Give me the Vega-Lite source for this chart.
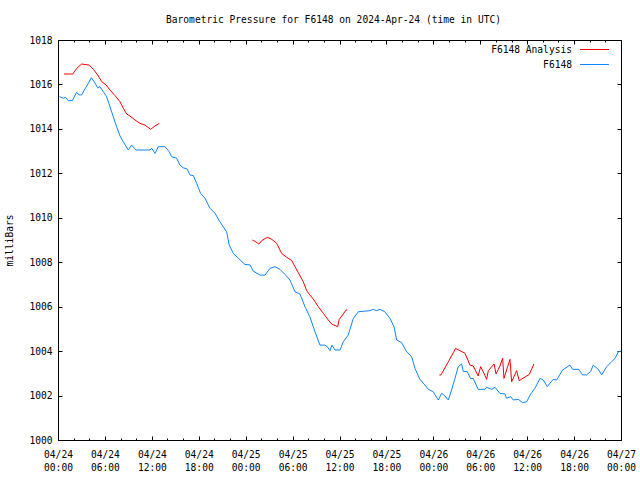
{
  "$schema": "https://vega.github.io/schema/vega-lite/v6.json",
  "width": 563,
  "height": 400,
  "autosize": {"type": "none"},
  "padding": {"left": 58, "top": 40, "right": 19, "bottom": 40},
  "background": "white",
  "config": {
    "font": "DejaVu Sans Mono",
    "view": {"stroke": "black", "strokeWidth": 1},
    "axis": {"grid": false, "domain": false, "labelFont": "DejaVu Sans Mono", "labelFontSize": 9.6, "labelColor": "black", "tickColor": "black", "tickWidth": 1, "titleFont": "DejaVu Sans Mono", "titleFontWeight": "normal", "titleFontSize": 9.6, "titleColor": "black"},
    "legend": {"labelFont": "DejaVu Sans Mono", "labelFontSize": 9.6, "labelColor": "black"}
  },
  "title": {"text": "Barometric Pressure for F6148 on 2024-Apr-24 (time in UTC)", "font": "DejaVu Sans Mono", "fontSize": 9.6, "fontWeight": "normal", "color": "black", "offset": 10, "dx": -6},
  "data": {
    "format": {"parse": {"time": "utc:'%Y-%m-%d %H:%M'"}},
    "values": [
      {"series": "F6148", "run": 0, "time": "2024-04-24 00:10", "mbar": 1015.45},
      {"series": "F6148", "run": 0, "time": "2024-04-24 00:41", "mbar": 1015.38},
      {"series": "F6148", "run": 0, "time": "2024-04-24 00:59", "mbar": 1015.42},
      {"series": "F6148", "run": 0, "time": "2024-04-24 01:19", "mbar": 1015.27},
      {"series": "F6148", "run": 0, "time": "2024-04-24 01:50", "mbar": 1015.27},
      {"series": "F6148", "run": 0, "time": "2024-04-24 02:23", "mbar": 1015.65},
      {"series": "F6148", "run": 0, "time": "2024-04-24 02:41", "mbar": 1015.53},
      {"series": "F6148", "run": 0, "time": "2024-04-24 03:02", "mbar": 1015.53},
      {"series": "F6148", "run": 0, "time": "2024-04-24 03:22", "mbar": 1015.75},
      {"series": "F6148", "run": 0, "time": "2024-04-24 03:45", "mbar": 1015.97},
      {"series": "F6148", "run": 0, "time": "2024-04-24 04:16", "mbar": 1016.30},
      {"series": "F6148", "run": 0, "time": "2024-04-24 04:38", "mbar": 1016.12},
      {"series": "F6148", "run": 0, "time": "2024-04-24 05:04", "mbar": 1015.85},
      {"series": "F6148", "run": 0, "time": "2024-04-24 05:22", "mbar": 1015.90},
      {"series": "F6148", "run": 0, "time": "2024-04-24 05:48", "mbar": 1015.67},
      {"series": "F6148", "run": 0, "time": "2024-04-24 06:13", "mbar": 1015.45},
      {"series": "F6148", "run": 0, "time": "2024-04-24 06:39", "mbar": 1015.00},
      {"series": "F6148", "run": 0, "time": "2024-04-24 07:04", "mbar": 1014.55},
      {"series": "F6148", "run": 0, "time": "2024-04-24 07:30", "mbar": 1014.10},
      {"series": "F6148", "run": 0, "time": "2024-04-24 07:56", "mbar": 1013.68},
      {"series": "F6148", "run": 0, "time": "2024-04-24 08:21", "mbar": 1013.42},
      {"series": "F6148", "run": 0, "time": "2024-04-24 08:59", "mbar": 1013.05},
      {"series": "F6148", "run": 0, "time": "2024-04-24 09:25", "mbar": 1013.27},
      {"series": "F6148", "run": 0, "time": "2024-04-24 09:58", "mbar": 1013.05},
      {"series": "F6148", "run": 0, "time": "2024-04-24 11:46", "mbar": 1013.05},
      {"series": "F6148", "run": 0, "time": "2024-04-24 11:59", "mbar": 1013.13},
      {"series": "F6148", "run": 0, "time": "2024-04-24 12:24", "mbar": 1012.90},
      {"series": "F6148", "run": 0, "time": "2024-04-24 12:50", "mbar": 1013.20},
      {"series": "F6148", "run": 0, "time": "2024-04-24 13:41", "mbar": 1013.20},
      {"series": "F6148", "run": 0, "time": "2024-04-24 14:14", "mbar": 1012.97},
      {"series": "F6148", "run": 0, "time": "2024-04-24 14:32", "mbar": 1012.75},
      {"series": "F6148", "run": 0, "time": "2024-04-24 15:10", "mbar": 1012.68},
      {"series": "F6148", "run": 0, "time": "2024-04-24 15:36", "mbar": 1012.37},
      {"series": "F6148", "run": 0, "time": "2024-04-24 16:00", "mbar": 1012.25},
      {"series": "F6148", "run": 0, "time": "2024-04-24 16:30", "mbar": 1012.20},
      {"series": "F6148", "run": 0, "time": "2024-04-24 16:54", "mbar": 1011.92},
      {"series": "F6148", "run": 0, "time": "2024-04-24 17:18", "mbar": 1011.90},
      {"series": "F6148", "run": 0, "time": "2024-04-24 17:44", "mbar": 1011.55},
      {"series": "F6148", "run": 0, "time": "2024-04-24 18:14", "mbar": 1011.10},
      {"series": "F6148", "run": 0, "time": "2024-04-24 18:48", "mbar": 1010.88},
      {"series": "F6148", "run": 0, "time": "2024-04-24 19:26", "mbar": 1010.43},
      {"series": "F6148", "run": 0, "time": "2024-04-24 20:05", "mbar": 1010.20},
      {"series": "F6148", "run": 0, "time": "2024-04-24 20:42", "mbar": 1009.82},
      {"series": "F6148", "run": 0, "time": "2024-04-24 21:34", "mbar": 1009.37},
      {"series": "F6148", "run": 0, "time": "2024-04-24 21:54", "mbar": 1008.77},
      {"series": "F6148", "run": 0, "time": "2024-04-24 22:25", "mbar": 1008.40},
      {"series": "F6148", "run": 0, "time": "2024-04-24 23:04", "mbar": 1008.18},
      {"series": "F6148", "run": 0, "time": "2024-04-24 23:54", "mbar": 1007.90},
      {"series": "F6148", "run": 0, "time": "2024-04-25 00:33", "mbar": 1007.88},
      {"series": "F6148", "run": 0, "time": "2024-04-25 00:58", "mbar": 1007.60},
      {"series": "F6148", "run": 0, "time": "2024-04-25 01:50", "mbar": 1007.42},
      {"series": "F6148", "run": 0, "time": "2024-04-25 02:28", "mbar": 1007.42},
      {"series": "F6148", "run": 0, "time": "2024-04-25 03:06", "mbar": 1007.72},
      {"series": "F6148", "run": 0, "time": "2024-04-25 03:45", "mbar": 1007.80},
      {"series": "F6148", "run": 0, "time": "2024-04-25 04:24", "mbar": 1007.68},
      {"series": "F6148", "run": 0, "time": "2024-04-25 05:02", "mbar": 1007.45},
      {"series": "F6148", "run": 0, "time": "2024-04-25 05:40", "mbar": 1007.20},
      {"series": "F6148", "run": 0, "time": "2024-04-25 06:18", "mbar": 1006.67},
      {"series": "F6148", "run": 0, "time": "2024-04-25 06:57", "mbar": 1006.57},
      {"series": "F6148", "run": 0, "time": "2024-04-25 07:35", "mbar": 1006.00},
      {"series": "F6148", "run": 0, "time": "2024-04-25 08:12", "mbar": 1005.55},
      {"series": "F6148", "run": 0, "time": "2024-04-25 08:52", "mbar": 1004.87},
      {"series": "F6148", "run": 0, "time": "2024-04-25 09:30", "mbar": 1004.27},
      {"series": "F6148", "run": 0, "time": "2024-04-25 10:08", "mbar": 1004.27},
      {"series": "F6148", "run": 0, "time": "2024-04-25 10:26", "mbar": 1004.20},
      {"series": "F6148", "run": 0, "time": "2024-04-25 10:47", "mbar": 1004.02},
      {"series": "F6148", "run": 0, "time": "2024-04-25 11:02", "mbar": 1004.27},
      {"series": "F6148", "run": 0, "time": "2024-04-25 11:25", "mbar": 1004.05},
      {"series": "F6148", "run": 0, "time": "2024-04-25 12:04", "mbar": 1004.05},
      {"series": "F6148", "run": 0, "time": "2024-04-25 12:29", "mbar": 1004.42},
      {"series": "F6148", "run": 0, "time": "2024-04-25 13:07", "mbar": 1004.72},
      {"series": "F6148", "run": 0, "time": "2024-04-25 13:46", "mbar": 1005.47},
      {"series": "F6148", "run": 0, "time": "2024-04-25 14:24", "mbar": 1005.77},
      {"series": "F6148", "run": 0, "time": "2024-04-25 15:54", "mbar": 1005.82},
      {"series": "F6148", "run": 0, "time": "2024-04-25 16:19", "mbar": 1005.88},
      {"series": "F6148", "run": 0, "time": "2024-04-25 16:45", "mbar": 1005.82},
      {"series": "F6148", "run": 0, "time": "2024-04-25 17:11", "mbar": 1005.88},
      {"series": "F6148", "run": 0, "time": "2024-04-25 17:48", "mbar": 1005.77},
      {"series": "F6148", "run": 0, "time": "2024-04-25 18:28", "mbar": 1005.47},
      {"series": "F6148", "run": 0, "time": "2024-04-25 18:58", "mbar": 1005.10},
      {"series": "F6148", "run": 0, "time": "2024-04-25 19:19", "mbar": 1004.50},
      {"series": "F6148", "run": 0, "time": "2024-04-25 19:57", "mbar": 1004.38},
      {"series": "F6148", "run": 0, "time": "2024-04-25 20:35", "mbar": 1003.97},
      {"series": "F6148", "run": 0, "time": "2024-04-25 21:14", "mbar": 1003.75},
      {"series": "F6148", "run": 0, "time": "2024-04-25 21:39", "mbar": 1003.22},
      {"series": "F6148", "run": 0, "time": "2024-04-25 22:17", "mbar": 1002.73},
      {"series": "F6148", "run": 0, "time": "2024-04-25 22:56", "mbar": 1002.47},
      {"series": "F6148", "run": 0, "time": "2024-04-25 23:22", "mbar": 1002.28},
      {"series": "F6148", "run": 0, "time": "2024-04-25 23:59", "mbar": 1002.17},
      {"series": "F6148", "run": 0, "time": "2024-04-26 00:38", "mbar": 1001.80},
      {"series": "F6148", "run": 0, "time": "2024-04-26 01:04", "mbar": 1002.10},
      {"series": "F6148", "run": 0, "time": "2024-04-26 01:29", "mbar": 1001.98},
      {"series": "F6148", "run": 0, "time": "2024-04-26 01:55", "mbar": 1001.80},
      {"series": "F6148", "run": 0, "time": "2024-04-26 02:20", "mbar": 1002.25},
      {"series": "F6148", "run": 0, "time": "2024-04-26 02:46", "mbar": 1002.77},
      {"series": "F6148", "run": 0, "time": "2024-04-26 03:11", "mbar": 1003.30},
      {"series": "F6148", "run": 0, "time": "2024-04-26 03:37", "mbar": 1003.42},
      {"series": "F6148", "run": 0, "time": "2024-04-26 03:50", "mbar": 1003.08},
      {"series": "F6148", "run": 0, "time": "2024-04-26 04:20", "mbar": 1003.08},
      {"series": "F6148", "run": 0, "time": "2024-04-26 04:46", "mbar": 1002.77},
      {"series": "F6148", "run": 0, "time": "2024-04-26 05:06", "mbar": 1002.77},
      {"series": "F6148", "run": 0, "time": "2024-04-26 05:44", "mbar": 1002.28},
      {"series": "F6148", "run": 0, "time": "2024-04-26 06:36", "mbar": 1002.28},
      {"series": "F6148", "run": 0, "time": "2024-04-26 06:49", "mbar": 1002.37},
      {"series": "F6148", "run": 0, "time": "2024-04-26 07:28", "mbar": 1002.28},
      {"series": "F6148", "run": 0, "time": "2024-04-26 07:53", "mbar": 1002.37},
      {"series": "F6148", "run": 0, "time": "2024-04-26 08:31", "mbar": 1002.10},
      {"series": "F6148", "run": 0, "time": "2024-04-26 09:10", "mbar": 1002.07},
      {"series": "F6148", "run": 0, "time": "2024-04-26 09:22", "mbar": 1001.88},
      {"series": "F6148", "run": 0, "time": "2024-04-26 09:53", "mbar": 1001.95},
      {"series": "F6148", "run": 0, "time": "2024-04-26 10:14", "mbar": 1001.80},
      {"series": "F6148", "run": 0, "time": "2024-04-26 10:52", "mbar": 1001.83},
      {"series": "F6148", "run": 0, "time": "2024-04-26 11:25", "mbar": 1001.68},
      {"series": "F6148", "run": 0, "time": "2024-04-26 11:56", "mbar": 1001.72},
      {"series": "F6148", "run": 0, "time": "2024-04-26 12:27", "mbar": 1002.07},
      {"series": "F6148", "run": 0, "time": "2024-04-26 13:00", "mbar": 1002.33},
      {"series": "F6148", "run": 0, "time": "2024-04-26 13:38", "mbar": 1002.77},
      {"series": "F6148", "run": 0, "time": "2024-04-26 14:04", "mbar": 1002.70},
      {"series": "F6148", "run": 0, "time": "2024-04-26 14:34", "mbar": 1002.40},
      {"series": "F6148", "run": 0, "time": "2024-04-26 15:20", "mbar": 1002.73},
      {"series": "F6148", "run": 0, "time": "2024-04-26 15:46", "mbar": 1002.70},
      {"series": "F6148", "run": 0, "time": "2024-04-26 16:32", "mbar": 1003.15},
      {"series": "F6148", "run": 0, "time": "2024-04-26 17:28", "mbar": 1003.37},
      {"series": "F6148", "run": 0, "time": "2024-04-26 17:49", "mbar": 1003.18},
      {"series": "F6148", "run": 0, "time": "2024-04-26 18:37", "mbar": 1003.18},
      {"series": "F6148", "run": 0, "time": "2024-04-26 19:05", "mbar": 1002.93},
      {"series": "F6148", "run": 0, "time": "2024-04-26 19:36", "mbar": 1002.93},
      {"series": "F6148", "run": 0, "time": "2024-04-26 20:07", "mbar": 1003.08},
      {"series": "F6148", "run": 0, "time": "2024-04-26 20:27", "mbar": 1003.37},
      {"series": "F6148", "run": 0, "time": "2024-04-26 21:06", "mbar": 1003.18},
      {"series": "F6148", "run": 0, "time": "2024-04-26 21:32", "mbar": 1002.93},
      {"series": "F6148", "run": 0, "time": "2024-04-26 22:10", "mbar": 1003.30},
      {"series": "F6148", "run": 0, "time": "2024-04-26 22:48", "mbar": 1003.52},
      {"series": "F6148", "run": 0, "time": "2024-04-26 23:14", "mbar": 1003.67},
      {"series": "F6148", "run": 0, "time": "2024-04-26 23:39", "mbar": 1003.97},
      {"series": "F6148", "run": 0, "time": "2024-04-27 00:00", "mbar": 1004.00},
      {"series": "F6148 Analysis", "run": 1, "time": "2024-04-24 00:46", "mbar": 1016.47},
      {"series": "F6148 Analysis", "run": 1, "time": "2024-04-24 01:53", "mbar": 1016.47},
      {"series": "F6148 Analysis", "run": 1, "time": "2024-04-24 02:23", "mbar": 1016.72},
      {"series": "F6148 Analysis", "run": 1, "time": "2024-04-24 03:02", "mbar": 1016.92},
      {"series": "F6148 Analysis", "run": 1, "time": "2024-04-24 04:00", "mbar": 1016.87},
      {"series": "F6148 Analysis", "run": 1, "time": "2024-04-24 04:31", "mbar": 1016.68},
      {"series": "F6148 Analysis", "run": 1, "time": "2024-04-24 05:04", "mbar": 1016.43},
      {"series": "F6148 Analysis", "run": 1, "time": "2024-04-24 05:35", "mbar": 1016.13},
      {"series": "F6148 Analysis", "run": 1, "time": "2024-04-24 06:08", "mbar": 1015.98},
      {"series": "F6148 Analysis", "run": 1, "time": "2024-04-24 06:39", "mbar": 1015.75},
      {"series": "F6148 Analysis", "run": 1, "time": "2024-04-24 07:17", "mbar": 1015.50},
      {"series": "F6148 Analysis", "run": 1, "time": "2024-04-24 07:56", "mbar": 1015.22},
      {"series": "F6148 Analysis", "run": 1, "time": "2024-04-24 08:21", "mbar": 1014.93},
      {"series": "F6148 Analysis", "run": 1, "time": "2024-04-24 08:47", "mbar": 1014.67},
      {"series": "F6148 Analysis", "run": 1, "time": "2024-04-24 09:12", "mbar": 1014.58},
      {"series": "F6148 Analysis", "run": 1, "time": "2024-04-24 09:51", "mbar": 1014.40},
      {"series": "F6148 Analysis", "run": 1, "time": "2024-04-24 10:29", "mbar": 1014.25},
      {"series": "F6148 Analysis", "run": 1, "time": "2024-04-24 11:08", "mbar": 1014.17},
      {"series": "F6148 Analysis", "run": 1, "time": "2024-04-24 11:51", "mbar": 1013.98},
      {"series": "F6148 Analysis", "run": 1, "time": "2024-04-24 12:24", "mbar": 1014.13},
      {"series": "F6148 Analysis", "run": 1, "time": "2024-04-24 12:58", "mbar": 1014.25},
      {"series": "F6148 Analysis", "run": 2, "time": "2024-04-25 00:51", "mbar": 1009.00},
      {"series": "F6148 Analysis", "run": 2, "time": "2024-04-25 01:17", "mbar": 1008.92},
      {"series": "F6148 Analysis", "run": 2, "time": "2024-04-25 01:42", "mbar": 1008.82},
      {"series": "F6148 Analysis", "run": 2, "time": "2024-04-25 02:03", "mbar": 1008.97},
      {"series": "F6148 Analysis", "run": 2, "time": "2024-04-25 02:46", "mbar": 1009.12},
      {"series": "F6148 Analysis", "run": 2, "time": "2024-04-25 03:20", "mbar": 1009.03},
      {"series": "F6148 Analysis", "run": 2, "time": "2024-04-25 03:58", "mbar": 1008.85},
      {"series": "F6148 Analysis", "run": 2, "time": "2024-04-25 04:36", "mbar": 1008.40},
      {"series": "F6148 Analysis", "run": 2, "time": "2024-04-25 05:15", "mbar": 1008.22},
      {"series": "F6148 Analysis", "run": 2, "time": "2024-04-25 05:54", "mbar": 1008.07},
      {"series": "F6148 Analysis", "run": 2, "time": "2024-04-25 06:18", "mbar": 1007.80},
      {"series": "F6148 Analysis", "run": 2, "time": "2024-04-25 06:44", "mbar": 1007.53},
      {"series": "F6148 Analysis", "run": 2, "time": "2024-04-25 07:22", "mbar": 1007.12},
      {"series": "F6148 Analysis", "run": 2, "time": "2024-04-25 07:48", "mbar": 1006.72},
      {"series": "F6148 Analysis", "run": 2, "time": "2024-04-25 08:14", "mbar": 1006.52},
      {"series": "F6148 Analysis", "run": 2, "time": "2024-04-25 08:44", "mbar": 1006.30},
      {"series": "F6148 Analysis", "run": 2, "time": "2024-04-25 09:17", "mbar": 1006.00},
      {"series": "F6148 Analysis", "run": 2, "time": "2024-04-25 09:56", "mbar": 1005.70},
      {"series": "F6148 Analysis", "run": 2, "time": "2024-04-25 10:34", "mbar": 1005.40},
      {"series": "F6148 Analysis", "run": 2, "time": "2024-04-25 11:00", "mbar": 1005.22},
      {"series": "F6148 Analysis", "run": 2, "time": "2024-04-25 11:46", "mbar": 1005.10},
      {"series": "F6148 Analysis", "run": 2, "time": "2024-04-25 11:58", "mbar": 1005.43},
      {"series": "F6148 Analysis", "run": 2, "time": "2024-04-25 12:29", "mbar": 1005.67},
      {"series": "F6148 Analysis", "run": 2, "time": "2024-04-25 12:50", "mbar": 1005.85},
      {"series": "F6148 Analysis", "run": 2, "time": "2024-04-25 13:00", "mbar": 1005.85},
      {"series": "F6148 Analysis", "run": 3, "time": "2024-04-26 00:46", "mbar": 1002.93},
      {"series": "F6148 Analysis", "run": 3, "time": "2024-04-26 00:59", "mbar": 1002.93},
      {"series": "F6148 Analysis", "run": 3, "time": "2024-04-26 01:55", "mbar": 1003.52},
      {"series": "F6148 Analysis", "run": 3, "time": "2024-04-26 02:51", "mbar": 1004.12},
      {"series": "F6148 Analysis", "run": 3, "time": "2024-04-26 03:24", "mbar": 1004.02},
      {"series": "F6148 Analysis", "run": 3, "time": "2024-04-26 04:03", "mbar": 1003.90},
      {"series": "F6148 Analysis", "run": 3, "time": "2024-04-26 04:41", "mbar": 1003.37},
      {"series": "F6148 Analysis", "run": 3, "time": "2024-04-26 05:06", "mbar": 1003.33},
      {"series": "F6148 Analysis", "run": 3, "time": "2024-04-26 05:44", "mbar": 1002.88},
      {"series": "F6148 Analysis", "run": 3, "time": "2024-04-26 06:03", "mbar": 1003.30},
      {"series": "F6148 Analysis", "run": 3, "time": "2024-04-26 06:23", "mbar": 1003.07},
      {"series": "F6148 Analysis", "run": 3, "time": "2024-04-26 06:49", "mbar": 1002.73},
      {"series": "F6148 Analysis", "run": 3, "time": "2024-04-26 07:02", "mbar": 1003.12},
      {"series": "F6148 Analysis", "run": 3, "time": "2024-04-26 07:46", "mbar": 1003.42},
      {"series": "F6148 Analysis", "run": 3, "time": "2024-04-26 08:01", "mbar": 1002.97},
      {"series": "F6148 Analysis", "run": 3, "time": "2024-04-26 08:31", "mbar": 1003.33},
      {"series": "F6148 Analysis", "run": 3, "time": "2024-04-26 08:52", "mbar": 1003.68},
      {"series": "F6148 Analysis", "run": 3, "time": "2024-04-26 09:02", "mbar": 1002.77},
      {"series": "F6148 Analysis", "run": 3, "time": "2024-04-26 09:22", "mbar": 1003.15},
      {"series": "F6148 Analysis", "run": 3, "time": "2024-04-26 09:48", "mbar": 1003.63},
      {"series": "F6148 Analysis", "run": 3, "time": "2024-04-26 10:01", "mbar": 1002.62},
      {"series": "F6148 Analysis", "run": 3, "time": "2024-04-26 10:39", "mbar": 1003.12},
      {"series": "F6148 Analysis", "run": 3, "time": "2024-04-26 10:59", "mbar": 1002.67},
      {"series": "F6148 Analysis", "run": 3, "time": "2024-04-26 11:56", "mbar": 1002.88},
      {"series": "F6148 Analysis", "run": 3, "time": "2024-04-26 12:16", "mbar": 1002.95},
      {"series": "F6148 Analysis", "run": 3, "time": "2024-04-26 12:52", "mbar": 1003.42}
    ]
  },
  "layer": [
    {
      "mark": {"type": "line", "strokeWidth": 1},
      "encoding": {
        "x": {"field": "time", "type": "temporal", "title": null,
          "scale": {"type": "utc", "domain": [1713916800000, 1714176000000]},
          "axis": {"orient": "bottom", "values": [1713916800000, 1713938400000, 1713960000000, 1713981600000, 1714003200000, 1714024800000, 1714046400000, 1714068000000, 1714089600000, 1714111200000, 1714132800000, 1714154400000, 1714176000000], "offset": -4, "tickSize": 4, "labelPadding": 9, "labelLineHeight": 13, "labelFlush": false, "labelOverlap": false, "labelExpr": "[utcFormat(datum.value, '%m/%d'), utcFormat(datum.value, '%H:%M')]"}},
        "y": {"field": "mbar", "type": "quantitative", "title": "milliBars",
          "scale": {"domain": [1000, 1018], "nice": false, "zero": false},
          "axis": {"orient": "left", "values": [1000, 1002, 1004, 1006, 1008, 1010, 1012, 1014, 1016, 1018], "format": "d", "offset": -4, "tickSize": 4, "labelPadding": 6, "titlePadding": 14}},
        "color": {"field": "series", "type": "nominal",
          "scale": {"domain": ["F6148 Analysis", "F6148"], "range": ["#ff0000", "#0f85ff"]},
          "legend": {"title": null, "orient": "none", "legendX": 531, "legendY": 4, "symbolType": "M-3,0H3", "symbolSize": 94, "symbolStrokeWidth": 1, "labelAlign": "right", "labelOffset": -28, "rowPadding": 4}},
        "detail": {"field": "run"}
      }
    },
    {
      "mark": {"type": "line", "opacity": 0},
      "encoding": {
        "x": {"field": "time", "type": "temporal", "title": null,
          "axis": {"orient": "bottom", "values": [1713916800000, 1713924000000, 1713931200000, 1713938400000, 1713945600000, 1713952800000, 1713960000000, 1713967200000, 1713974400000, 1713981600000, 1713988800000, 1713996000000, 1714003200000, 1714010400000, 1714017600000, 1714024800000, 1714032000000, 1714039200000, 1714046400000, 1714053600000, 1714060800000, 1714068000000, 1714075200000, 1714082400000, 1714089600000, 1714096800000, 1714104000000, 1714111200000, 1714118400000, 1714125600000, 1714132800000, 1714140000000, 1714147200000, 1714154400000, 1714161600000, 1714168800000, 1714176000000], "offset": -2, "tickSize": 2, "labels": false}},
        "y": {"field": "mbar", "type": "quantitative", "axis": null}
      }
    },
    {
      "mark": {"type": "line", "opacity": 0},
      "encoding": {
        "x": {"field": "time", "type": "temporal", "title": null,
          "axis": {"orient": "top", "values": [1713916800000, 1713938400000, 1713960000000, 1713981600000, 1714003200000, 1714024800000, 1714046400000, 1714068000000, 1714089600000, 1714111200000, 1714132800000, 1714154400000, 1714176000000], "offset": -4, "tickSize": 4, "labels": false}},
        "y": {"field": "mbar", "type": "quantitative", "title": null,
          "axis": {"orient": "right", "values": [1000, 1002, 1004, 1006, 1008, 1010, 1012, 1014, 1016, 1018], "offset": -4, "tickSize": 4, "labels": false}}
      }
    },
    {
      "mark": {"type": "line", "opacity": 0},
      "encoding": {
        "x": {"field": "time", "type": "temporal", "title": null,
          "axis": {"orient": "top", "values": [1713916800000, 1713924000000, 1713931200000, 1713938400000, 1713945600000, 1713952800000, 1713960000000, 1713967200000, 1713974400000, 1713981600000, 1713988800000, 1713996000000, 1714003200000, 1714010400000, 1714017600000, 1714024800000, 1714032000000, 1714039200000, 1714046400000, 1714053600000, 1714060800000, 1714068000000, 1714075200000, 1714082400000, 1714089600000, 1714096800000, 1714104000000, 1714111200000, 1714118400000, 1714125600000, 1714132800000, 1714140000000, 1714147200000, 1714154400000, 1714161600000, 1714168800000, 1714176000000], "offset": -2, "tickSize": 2, "labels": false}},
        "y": {"field": "mbar", "type": "quantitative", "axis": null}
      }
    }
  ],
  "resolve": {"axis": {"x": "independent", "y": "independent"}}
}
